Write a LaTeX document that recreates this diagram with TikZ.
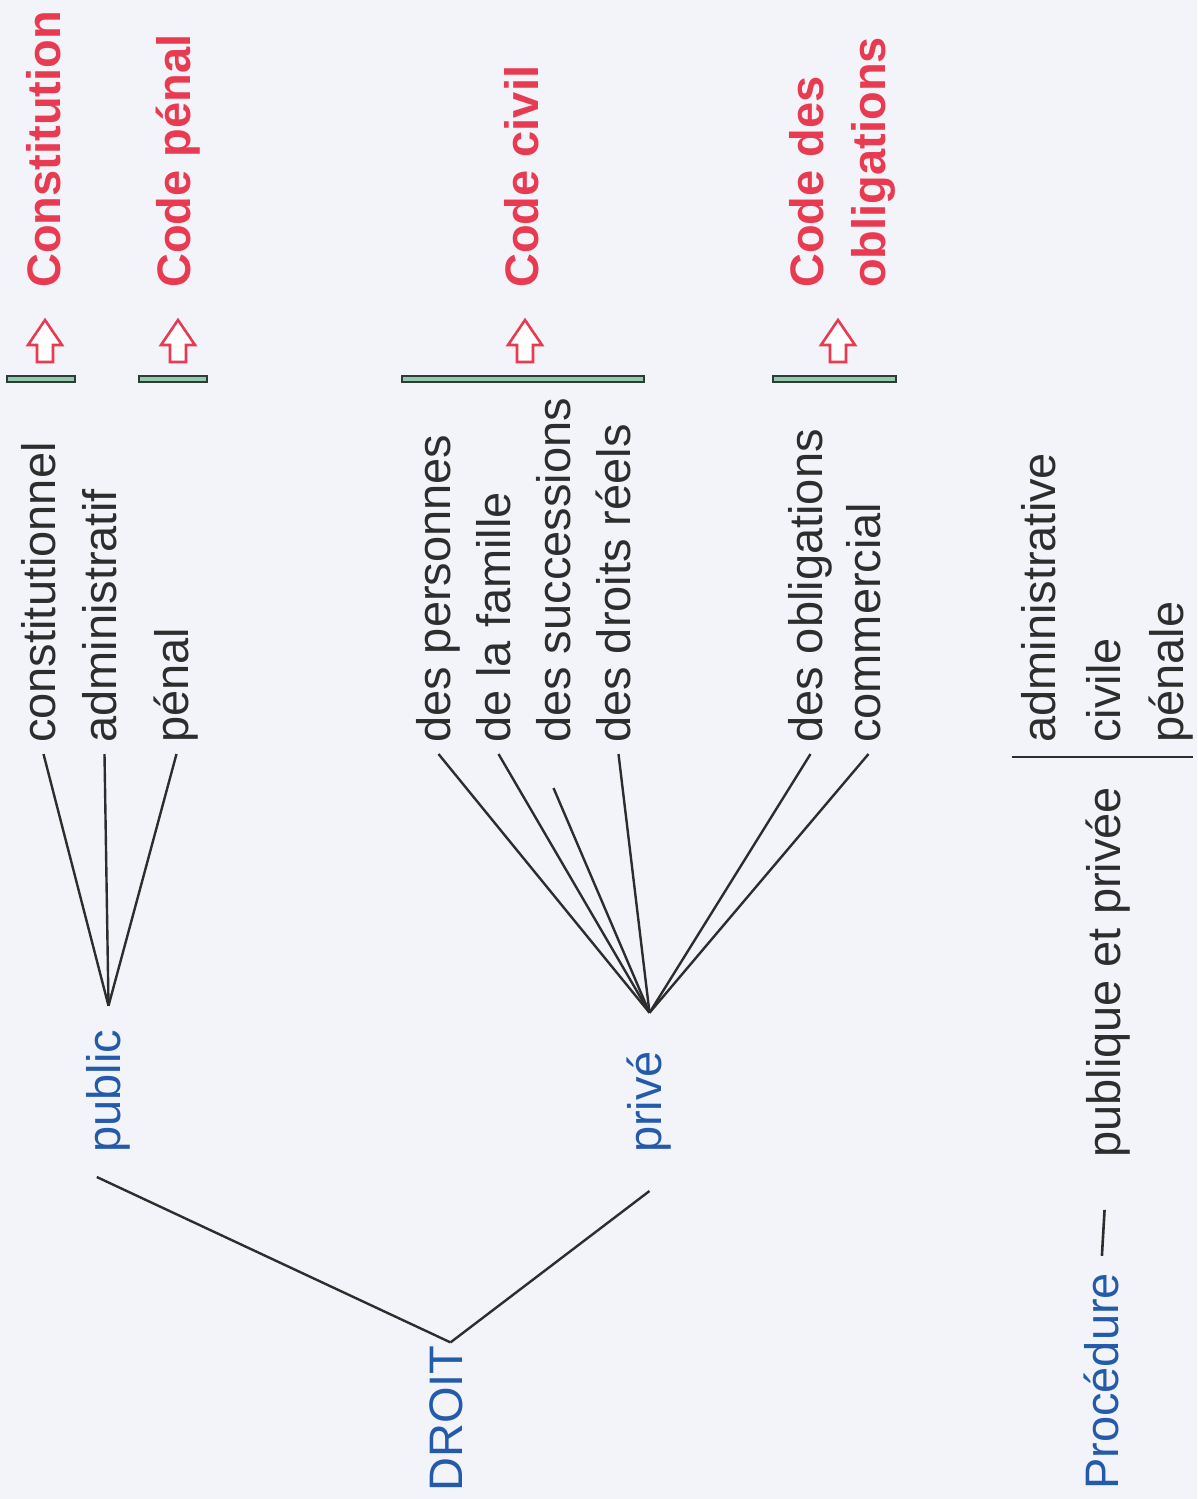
\documentclass[tikz,border=0pt]{standalone}
\usepackage{fontspec}
\setmainfont{Liberation Sans}
\usetikzlibrary{positioning}
\definecolor{paper}{RGB}{243,244,250}
\definecolor{inkgray}{RGB}{45,45,45}
\definecolor{droitblue}{RGB}{35,90,170}
\definecolor{codered}{RGB}{232,58,80}
\definecolor{bargreen}{RGB}{150,200,175}
\newcommand{\leaffont}{\fontsize{47}{56}\selectfont}
\newcommand{\codefont}{\bfseries\fontsize{47}{62}\selectfont}

\begin{document}
\begin{tikzpicture}[x=1pt, y=-1pt,
    every node/.style={inner sep=0pt, rotate=90, anchor=base west},
    leaf/.style={font=\leaffont, text=inkgray, text height=23pt, text depth=0pt, inner xsep=11pt},
    branch/.style={font=\leaffont, text=droitblue, text height=23pt, text depth=0pt, inner xsep=24pt},
    plain/.style={font=\leaffont, text=inkgray},
    code/.style={font=\codefont, text=codered},
    treeline/.style={draw=inkgray, line width=2.4pt},
    codebar/.style={draw=bargreen!30!black, fill=bargreen, line width=1.4pt},
    codearrow/.style={draw=codered, fill=white, line width=2.6pt, line join=miter}]

    \fill[paper] (0,0) rectangle (1197,1499);
    \useasboundingbox (0,0) rectangle (1197,1499);

    % tronc
    \node[branch, inner xsep=3pt] (droit) at (462,1495) {DROIT};
    \node[branch] (public) at (120,1177) {public};
    \node[branch, inner xsep=38pt] (prive) at (661,1191) {privé};
    \draw[treeline] (droit.east) -- (public.north west);
    \draw[treeline] (droit.east) -- (prive.west);

    % droit public
    \node[leaf] (constit) at (55,754) {constitutionnel};
    \node[leaf] (admin) at (116,754) {administratif};
    \node[leaf] (penal) at (188,754) {pénal};
    \foreach \leafname in {constit,admin,penal}
        \draw[treeline] (\leafname.west) -- (public.east);

    % droit privé
    \node[leaf] (personnes) at (450,754) {des personnes};
    \node[leaf] (famille) at (510,754) {de la famille};
    \node[leaf] (succ) at (570,754) {des successions};
    \node[leaf] (reels) at (630,754) {des droits réels};
    \node[leaf] (oblig) at (822,754) {des obligations};
    \node[leaf] (commerce) at (880,754) {commercial};
    \coordinate (succfoot) at ([shift={(-5,34)}]succ.west);
    \foreach \leafname in {personnes,famille,succfoot,reels,oblig,commerce}
        \draw[treeline] (\leafname.west) -- (prive.east);

    % codes
    \node[code] (constitution) at (60,288) {Constitution};
    \node[code] (codepenal) at (190,288) {Code pénal};
    \node[code] (codecivil) at (538,288) {Code civil};
    \node[code, align=left, anchor=north west] (codeoblig) at (789,288) {Code des\\obligations};
    \foreach \bl/\br in {7/75, 139/207, 402/644, 773/896}
        \draw[codebar] (\bl,376) rectangle (\br,382);
    \foreach \ax in {45,178,525,838}
        \draw[codearrow] (\ax-8,362) -- ++(16,0) -- ++(0,-17) -- ++(9,0)
            -- (\ax,320) -- (\ax-17,345) -- ++(9,0) -- cycle;

    % procédure
    \node[plain, text=droitblue] (proc) at (1118,1490) {Procédure};
    \node[plain] (pubpriv) at (1120,1158) {publique et privée};
    \draw[inkgray, line width=2.6pt, shorten <=17pt, shorten >=52pt] (proc.east) -- (pubpriv.west);
    \node[plain, inner xsep=14pt] (procadmin) at (1055,757) {administrative};
    \node[plain, inner xsep=14pt] (proccivile) at (1120,757) {civile};
    \node[plain, inner xsep=14pt] (procpenale) at (1183,757) {pénale};
    \draw[treeline, line width=2pt, shorten <=-9pt] (procadmin.north west) -- (procpenale.south west);
\end{tikzpicture}
\end{document}
